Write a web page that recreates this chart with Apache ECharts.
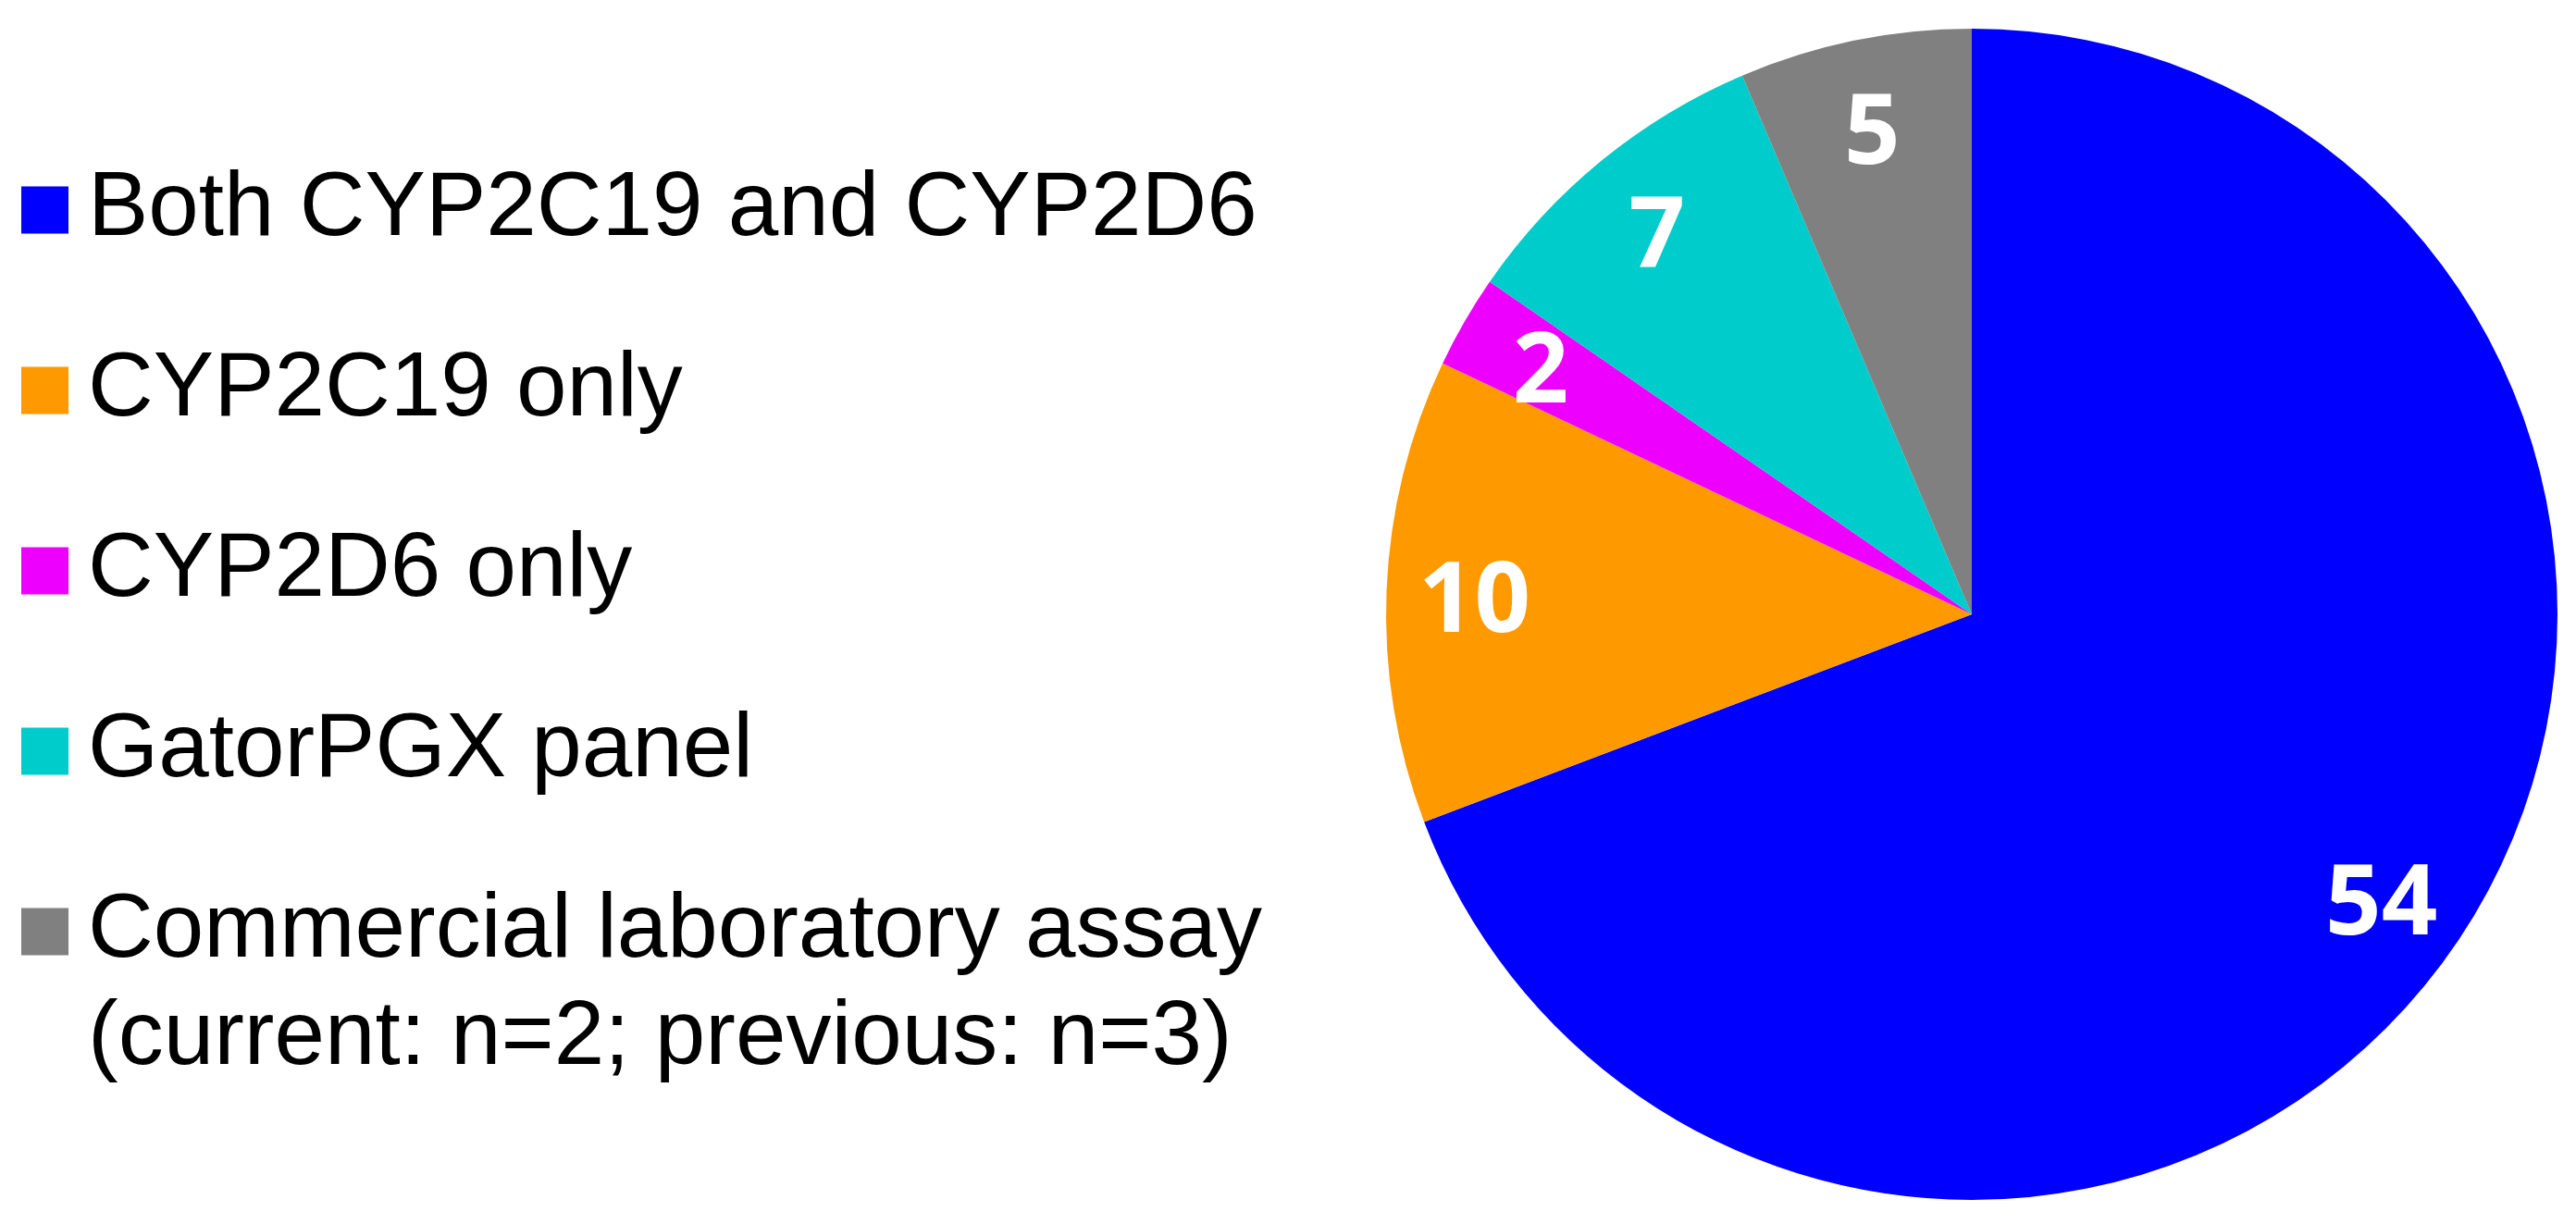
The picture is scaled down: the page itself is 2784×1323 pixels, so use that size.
<!DOCTYPE html>
<html>
<head>
<meta charset="utf-8">
<script src="https://cdn.jsdelivr.net/npm/echarts@6/dist/echarts.min.js"></script>
<style>
html,body{margin:0;padding:0;background:#fff;}
#chart{width:2784px;height:1323px;}
</style>
</head>
<body>
<div id="chart"></div>
<script>
// ---- data ----
const categories = ['Both CYP2C19 and CYP2D6', 'CYP2C19 only', 'CYP2D6 only', 'GatorPGX panel', 'Commercial laboratory assay'];
const counts = [54, 10, 2, 7, 5];
const colors = ['#0000FF', '#FF9900', '#EE00FF', '#00CCCC', '#808080'];
const legendNote = '(current: n=2; previous: n=3)';

// ---- layout ----
const cx = 2131, cy = 664, R = 633;
const legendLeft = 23, legendTop = 170.5, sq = 51, textGap = 21, lineH = 113, itemGap = 82;
const legendFont = 98;

const chart = echarts.init(document.getElementById('chart'), null, {renderer: 'canvas'});
const pieData = categories.map((n, i) => ({name: n, value: counts[i], itemStyle: {color: colors[i]}}));

const lastCenter = legendTop + lineH / 2 + (categories.length - 1) * (lineH + itemGap);

chart.setOption({
  backgroundColor: '#ffffff',
  animation: false,
  legend: {
    orient: 'vertical',
    left: legendLeft,
    top: legendTop,
    padding: 0,
    icon: 'rect',
    itemWidth: sq,
    itemHeight: sq,
    itemGap: itemGap,
    selectedMode: false,
    data: categories,
    textStyle: {
      fontFamily: 'Liberation Sans, Arial, sans-serif',
      fontSize: legendFont,
      lineHeight: lineH,
      color: '#000',
      padding: [0, 0, 0, textGap - 5]
    },
    itemStyle: {borderWidth: 0}
  },
  graphic: [{
    type: 'text',
    left: legendLeft + sq + textGap,
    top: lastCenter + lineH / 2 + 3,
    style: {
      text: legendNote,
      font: legendFont + 'px "Liberation Sans", Arial, sans-serif',
      fill: '#000',
      lineHeight: lineH
    }
  }],
  series: [{
    type: 'pie',
    center: [cx, cy],
    radius: R,
    startAngle: 90,
    clockwise: true,
    avoidLabelOverlap: false,
    silent: true,
    label: {show: false},
    labelLine: {show: false},
    itemStyle: {borderWidth: 0},
    data: pieData
  }, {
    type: 'pie',
    center: [cx, cy],
    radius: [R * 0.69, R],
    startAngle: 90,
    clockwise: true,
    avoidLabelOverlap: false,
    silent: true,
    itemStyle: {color: 'rgba(0,0,0,0)', borderWidth: 0},
    labelLine: {show: false},
    label: {
      show: true,
      position: 'inside',
      formatter: '{c}',
      color: '#fff',
      fontFamily: 'Open Sans, sans-serif',
      fontWeight: 'bold',
      fontSize: 106,
      offset: [0, 10]
    },
    data: categories.map((n, i) => ({name: n, value: counts[i]}))
  }]
});
</script>
</body>
</html>
